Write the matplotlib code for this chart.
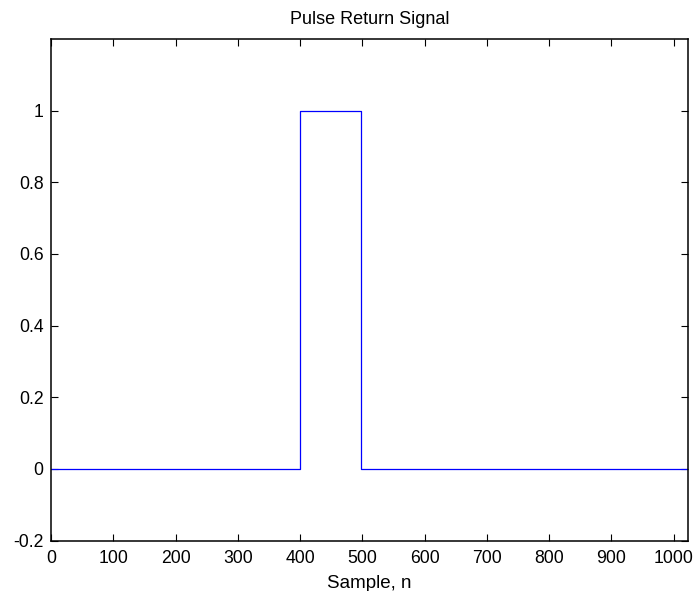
import matplotlib
matplotlib.use("Agg")
import matplotlib.pyplot as plt

# pulse return signal (step outline of the rectangular pulse)
samples = [0, 400, 400, 498, 498, 1023]
amplitude = [0, 0, 1, 1, 0, 0]

x_ticks = [0, 100, 200, 300, 400, 500, 600, 700, 800, 900, 1000]
y_ticks = [-0.2, 0, 0.2, 0.4, 0.6, 0.8, 1]
y_labels = ["-0.2", "0", "0.2", "0.4", "0.6", "0.8", "1"]

plt.rcParams["font.family"] = ["Liberation Sans", "DejaVu Sans"]

fig = plt.figure(figsize=(6.98, 5.91), dpi=100)
ax = fig.add_axes([0.0731, 0.0853, 0.9126, 0.8487])

ax.plot(samples, amplitude, color="#0000ff", linewidth=0.9)

ax.set_xlim(0, 1023)
ax.set_ylim(-0.2, 1.2)
ax.set_xticks(x_ticks)
ax.set_yticks(y_ticks)
ax.set_yticklabels(y_labels)
ax.tick_params(direction="in", top=True, right=True, length=4.7, width=0.8,
               labelsize=12.7)
ax.tick_params(axis="x", pad=7)
ax.tick_params(axis="y", pad=5.5)
for s in ax.spines.values():
    s.set_linewidth(1.1)

ax.set_title("Pulse Return Signal", fontsize=13, pad=10.5)
ax.set_xlabel("Sample, n", fontsize=13.5, labelpad=5.5)

fig.savefig("out.png", dpi=100)
